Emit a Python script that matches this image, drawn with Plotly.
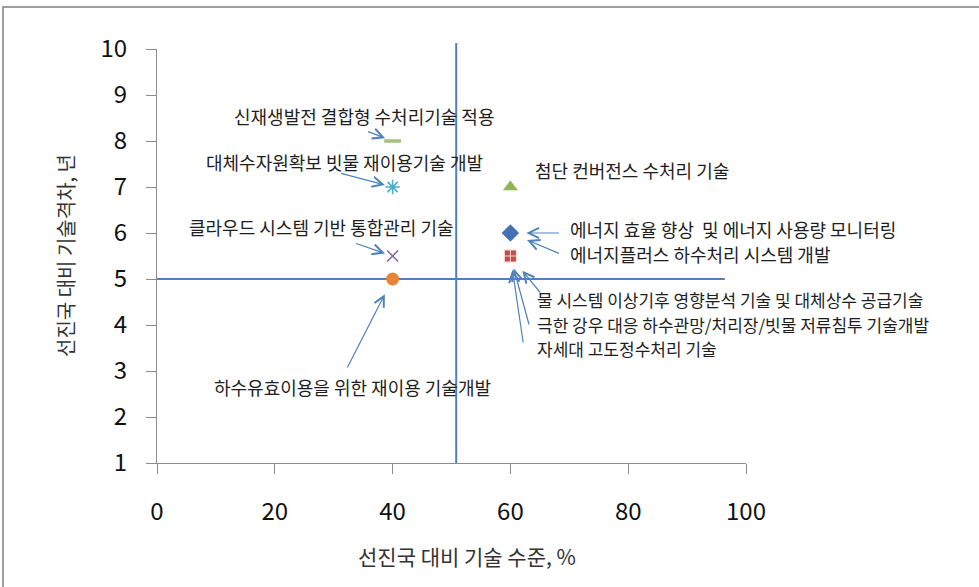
import plotly.graph_objects as go

# ---------------- data ----------------
tech_names = [
    "에너지 효율 향상  및 에너지 사용량 모니터링",
    "에너지플러스 하수처리 시스템 개발",
    "물 시스템 이상기후 영향분석 기술 및 대체상수 공급기술",
    "극한 강우 대응 하수관망/처리장/빗물 저류침투 기술개발",
    "자세대 고도정수처리 기술",
    "첨단 컨버전스 수처리 기술",
    "클라우드 시스템 기반 통합관리 기술",
    "대체수자원확보 빗물 재이용기술 개발",
    "하수유효이용을 위한 재이용 기술개발",
    "신재생발전 결합형 수처리기술 적용",
]
tech_level = [60, 60, 60, 60, 60, 60, 40, 40, 40, 40]      # 선진국 대비 기술 수준, %
tech_gap = [6, 6, 5.5, 5.5, 5.5, 7, 5.5, 7, 5, 8]           # 선진국 대비 기술격차, 년

ref_level = 50.8   # vertical reference line (x)
ref_gap = 5        # horizontal reference line (y)
ref_hline_end = 96.4

x_ticks = [0, 20, 40, 60, 80, 100]
y_ticks = [1, 2, 3, 4, 5, 6, 7, 8, 9, 10]

x_title = "선진국 대비 기술 수준, %"
y_title = "선진국 대비 기술격차, 년"

# ---------------- styles ----------------
KFONT = "Noto Sans CJK KR"
BLUE = "#4F81BD"

SQ = dict(symbol="square-cross", size=12, color="#C0504D",
          line=dict(color="rgba(255,225,225,0.9)", width=1))
marker_styles = [
    dict(symbol="diamond", size=13, color="#4472B4"),
    dict(symbol="diamond", size=13, color="#4472B4"),
    SQ, SQ, SQ,
    dict(symbol="triangle-up", size=13, color="#8DB553"),
    dict(symbol="x-thin-open", size=11, color="#8064A2", line=dict(color="#8064A2", width=1.5)),
    dict(symbol="asterisk-open", size=12, color="#4BACC6", line=dict(color="#4BACC6", width=1.5)),
    dict(symbol="circle", size=13, color="#E8843A"),
    dict(symbol="line-ew-open", size=12, color="#A5C27F", line=dict(color="#A5C27F", width=3.5)),
]

# label placement: (left edge x, centre y in data units, font size)
label_pos = [
    (69.8, 6.08, 18), (69.8, 5.54, 18),
    (64.2, 4.555, 17), (64.2, 4.02, 17), (64.2, 3.485, 17),
    (63.8, 7.37, 18), (5.1, 6.14, 18), (7.9, 7.55, 18), (9.3, 2.66, 18), (12.7, 8.54, 18),
]
# arrow tails (pixel offsets from point) and standoff; None = no arrow
arrow_spec = [
    (50, 0, 16), (50, 21, 18), (31, 38, 19), (19, 70, 13), (13, 88, 14),
    None, (-38, -13, 8), (-53, -14, 8), (-46, 90, 17), (-26, -10, 8),
]

fig = go.Figure()

for i in range(len(tech_names)):
    fig.add_trace(go.Scatter(
        x=[tech_level[i]], y=[tech_gap[i]], mode="markers",
        marker=marker_styles[i], name=tech_names[i], showlegend=False,
        hoverinfo="text", hovertext=tech_names[i], cliponaxis=False,
    ))

annotations = []
for i, name in enumerate(tech_names):
    lx, ly, fs = label_pos[i]
    annotations.append(dict(
        x=lx, y=ly, xref="x", yref="y", text=name, showarrow=False,
        xanchor="left", yanchor="middle",
        font=dict(family=KFONT, size=fs, color="#1e1e1e"),
    ))

for i in range(len(tech_names)):
    if arrow_spec[i] is not None:
        ax, ay, so = arrow_spec[i]
        annotations.append(dict(
            x=tech_level[i], y=tech_gap[i], xref="x", yref="y", text="",
            showarrow=True, ax=ax, ay=ay, standoff=so,
            arrowhead=5, arrowsize=1.7, arrowwidth=1.2, arrowcolor=BLUE,
        ))

# axis titles
annotations.append(dict(
    x=(467 - 157) / 589, y=0, xref="paper", yref="paper", yshift=-93,
    text=x_title, showarrow=False, xanchor="center", yanchor="middle",
    font=dict(family=KFONT, size=21, color="#333333"),
))
annotations.append(dict(
    x=0, y=0.5, xref="paper", yref="paper", xshift=-92, textangle=-90,
    text=y_title, showarrow=False, xanchor="center", yanchor="middle",
    font=dict(family=KFONT, size=20, color="#333333"),
))

shapes = [
    # outer frame
    dict(type="rect", xref="paper", yref="paper",
         x0=(3 - 157) / 589, x1=1.8, y0=-0.8, y1=(463 - 7) / 414,
         line=dict(color="#7f7f7f", width=1.5), fillcolor="rgba(0,0,0,0)", layer="below"),
    # reference lines
    dict(type="line", xref="x", yref="paper", x0=ref_level, x1=ref_level,
         y0=0, y1=(463 - 43) / 414, line=dict(color=BLUE, width=2), layer="below"),
    dict(type="line", xref="x", yref="y", x0=0, x1=ref_hline_end,
         y0=ref_gap, y1=ref_gap, line=dict(color=BLUE, width=2), layer="below"),
]

axis_common = dict(
    showgrid=False, zeroline=False, showline=True, linecolor="#8c8c8c", linewidth=1,
    ticks="outside", ticklen=10, tickcolor="#8c8c8c", tickwidth=1,
    tickfont=dict(family=KFONT, size=24, color="#111111"),
)

fig.update_layout(
    width=979, height=587,
    margin=dict(l=157, r=233, t=49, b=124),
    paper_bgcolor="white", plot_bgcolor="white",
    showlegend=False,
    xaxis=dict(range=[0, 100], tickvals=x_ticks, ticktext=[str(v) for v in x_ticks],
               ticklabelstandoff=17, **axis_common),
    yaxis=dict(range=[1, 10], tickvals=y_ticks, ticktext=[str(v) for v in y_ticks],
               ticklabelstandoff=14, **axis_common),
    annotations=annotations,
    shapes=shapes,
)

fig.write_html(
    "out.html",
    config={"displayModeBar": False},
    post_script="document.body.style.margin='0';document.body.style.padding='0';",
)
